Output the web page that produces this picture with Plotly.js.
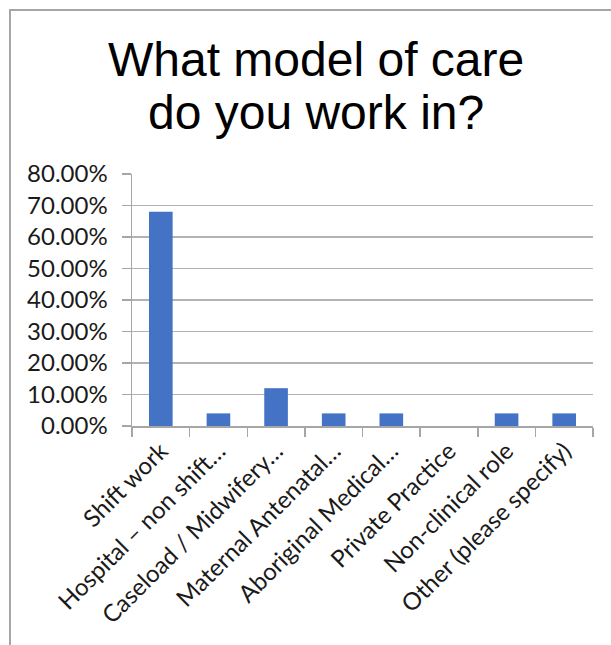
<!DOCTYPE html>
<html><head><meta charset="utf-8">
<script src="https://cdn.plot.ly/plotly-3.0.1.min.js"></script>
<style>html,body{margin:0;padding:0;background:#fff;}#chart{width:611px;height:645px;}</style>
</head><body><div id="chart"></div>
<script>
const categories = ["Shift work", "Hospital – non shift…", "Caseload / Midwifery…", "Maternal Antenatal…", "Aboriginal Medical…", "Private Practice", "Non-clinical role", "Other (please specify)"];
const values = [0.68, 0.04, 0.12, 0.04, 0.04, 0.00, 0.04, 0.04];
const titleLines = ["What model of care", "do you work in?"];

const L = 132, R = 593, T = 174, B = 426, W = 611, H = 645;
const px = x => (x - L) / (R - L);
const py = y => (B - y) / (B - T);

const trace = {
  type: 'bar', x: categories, y: values,
  marker: {color: '#4472C4'},
  hoverinfo: 'x+y'
};
const layout = {
  width: W, height: H,
  margin: {l: L, r: W - R, t: T, b: H - B},
  paper_bgcolor: '#fff', plot_bgcolor: '#fff',
  showlegend: false,
  bargap: 0.59,
  font: {family: 'Lato, "Liberation Sans", sans-serif', color: '#1a1a1a'},
  xaxis: {
    type: 'category', tickangle: -45, tickson: 'boundaries',
    ticks: 'outside', ticklen: 9, tickcolor: '#a6a6a6', tickwidth: 1.5,
    showline: true, linecolor: '#a6a6a6', linewidth: 1.5,
    showgrid: false, tickfont: {size: 24, color: '#1a1a1a'}
  },
  yaxis: {
    range: [0, 0.8], dtick: 0.1, tickformat: '.2%',
    ticks: 'outside', ticklen: 9, tickcolor: '#a6a6a6', tickwidth: 1.5,
    showline: true, linecolor: '#a6a6a6', linewidth: 1.5,
    showgrid: true, gridcolor: '#b3b3b3', gridwidth: 1.5,
    zeroline: false, tickfont: {size: 24, color: '#1a1a1a'}, ticklabelstandoff: 9
  },
  annotations: titleLines.map((t, i) => ({
    text: t, xref: 'paper', yref: 'paper', x: px(316), y: py(i === 0 ? 59 : 112),
    xanchor: 'center', yanchor: 'middle', showarrow: false,
    font: {family: '"Liberation Sans", Arial, sans-serif', size: 48, color: '#000'}
  })),
  shapes: [
    {type: 'line', xref: 'paper', yref: 'paper', x0: px(10), x1: px(10), y0: py(9), y1: py(650), line: {color: '#a6a6a6', width: 2}},
    {type: 'line', xref: 'paper', yref: 'paper', x0: px(9), x1: px(620), y0: py(10), y1: py(10), line: {color: '#a6a6a6', width: 2}}
  ]
};
Plotly.newPlot('chart', [trace], layout, {displayModeBar: false, staticPlot: true});
</script></body></html>
